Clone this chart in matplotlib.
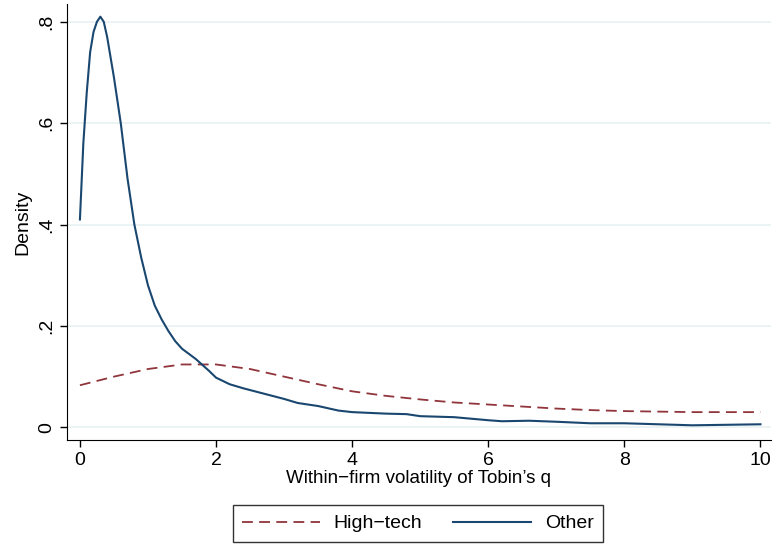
import matplotlib
matplotlib.use("Agg")
import matplotlib.pyplot as plt

plt.rcParams['font.family'] = ['Liberation Sans', 'DejaVu Sans']

# kernel density
other_x = [0.0, 0.05, 0.1, 0.15, 0.2, 0.25, 0.3, 0.35, 0.4, 0.45, 0.5, 0.6, 0.7, 0.8, 0.9,
           1.0, 1.1, 1.2, 1.3, 1.4, 1.5, 1.6, 1.7, 1.8, 1.9, 2.0, 2.2, 2.4, 2.6, 2.8,
           3.0, 3.2, 3.5, 3.8, 4.0, 4.5, 4.8, 5.0, 5.5, 6.0, 6.2, 6.6, 7.0, 7.5, 8.0,
           8.5, 9.0, 9.5, 10.0]
other_y = [0.41, 0.56, 0.66, 0.74, 0.78, 0.80, 0.81, 0.80, 0.77, 0.73, 0.69, 0.60, 0.49, 0.40, 0.335,
           0.28, 0.24, 0.213, 0.19, 0.17, 0.155, 0.145, 0.135, 0.123, 0.111, 0.098, 0.085, 0.077, 0.070, 0.063,
           0.056, 0.048, 0.042, 0.033, 0.030, 0.027, 0.026, 0.022, 0.020, 0.014, 0.012, 0.013, 0.011, 0.008, 0.008,
           0.006, 0.004, 0.005, 0.006]

tech_x = [0.0, 0.5, 1.0, 1.5, 2.0, 2.5, 3.0, 3.5, 4.0, 4.5, 5.0, 5.5, 6.0, 6.5, 7.0, 7.5, 8.0,
          8.5, 9.0, 9.5, 10.0]
tech_y = [0.083, 0.100, 0.115, 0.124, 0.124, 0.115, 0.100, 0.085, 0.071, 0.062, 0.055, 0.049,
          0.045, 0.041, 0.037, 0.034, 0.032, 0.031, 0.030, 0.030, 0.030]

navy = '#1a476f'
maroon = '#90353b'

fig = plt.figure(figsize=(7.73, 5.46), dpi=100)
ax = fig.add_axes([67 / 773, 1 - 440 / 546, 1 - 67 / 773 - 0.003, (440 - 4) / 546])

ax.plot(tech_x, tech_y, color=maroon, lw=1.3, dashes=(6, 3.5), label='High\u2212tech')
ax.plot(other_x, other_y, color=navy, lw=1.5, label='Other')

ax.set_xlim(-0.19, 10.15)
ax.set_ylim(-0.025, 0.835)
ax.set_xticks([0, 2, 4, 6, 8, 10])
ax.set_yticks([0, 0.2, 0.4, 0.6, 0.8])
ax.set_yticklabels(['0', '.2', '.4', '.6', '.8'], rotation=90, va='center')
ax.tick_params(labelsize=14, length=5, width=1, direction='out')
ax.grid(axis='y', color='#eaf2f3', lw=1.3)
ax.set_axisbelow(True)
for s in ['top', 'right']:
    ax.spines[s].set_visible(False)
ax.set_xlabel('Within\u2212firm volatility of Tobin\u2019s q', fontsize=13.5, labelpad=1)
ax.set_ylabel('Density', fontsize=14, labelpad=5)

leg = fig.legend(loc='upper center', bbox_to_anchor=(418 / 773, 1 - 505 / 546), ncol=2, fontsize=14,
                 frameon=True, fancybox=False, edgecolor='black', handlelength=4.0,
                 columnspacing=1.6, borderpad=0.5, handletextpad=0.7, borderaxespad=0)
leg.get_frame().set_linewidth(1)

fig.savefig('out.png', dpi=100)
